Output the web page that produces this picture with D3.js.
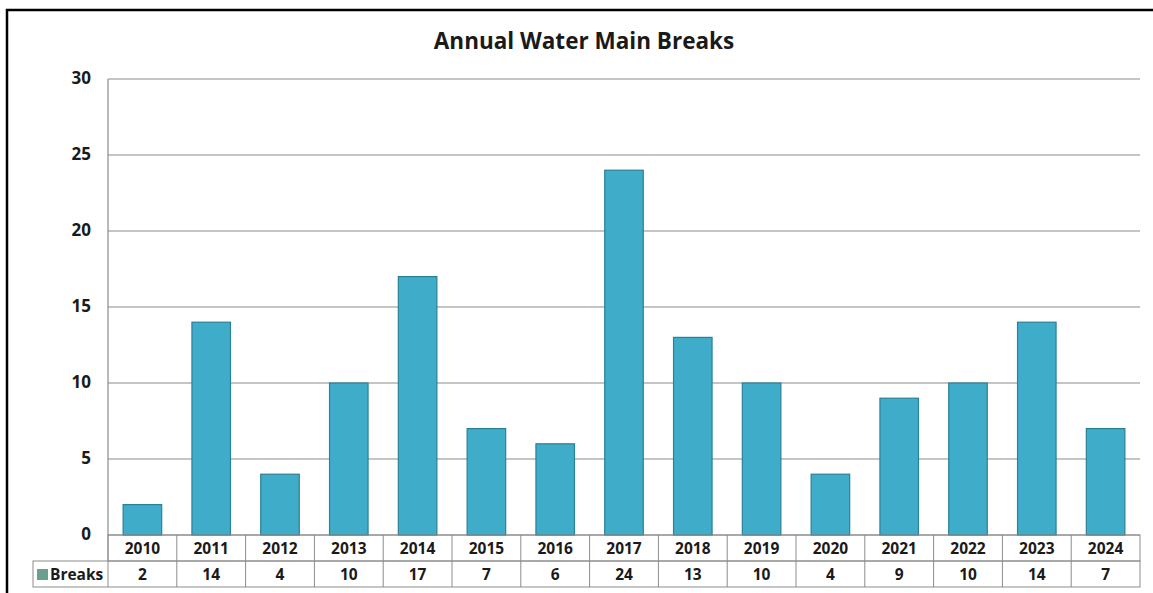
<!DOCTYPE html>
<html><head><meta charset="utf-8">
<script src="https://cdn.jsdelivr.net/npm/d3@7"></script>
<style>body{margin:0;background:#fff;}svg{display:block;font-family:"Open Sans",Lato,sans-serif;}</style>
</head><body>
<svg id="c" width="1153" height="593"></svg>
<script>
const years = ["2010","2011","2012","2013","2014","2015","2016","2017","2018","2019","2020","2021","2022","2023","2024"];
const breaks = [2,14,4,10,17,7,6,24,13,10,4,9,10,14,7];
const yTicks = [0,5,10,15,20,25,30];
const seriesName = "Breaks";
const title = "Annual Water Main Breaks";

(function(){
const svg = d3.select("#c");
const pL = 108, pR = 1140, pT = 79, pB = 535, rowH = 26;
const x = d3.scaleBand().domain(years).range([pL, pR]).paddingInner(0.44).paddingOuter(0.22);
const xc = d3.scaleBand().domain(years).range([pL, pR]);
const y = d3.scaleLinear().domain([0,30]).range([pB, pT]);

// frame
svg.append("path").attr("d",`M7,593 L7,10 L1153,10`).attr("fill","none").attr("stroke","#000").attr("stroke-width",2.5);

// title
svg.append("text").attr("x",584).attr("y",49).attr("text-anchor","middle").attr("font-size",22.5).attr("font-weight","bold").attr("fill","#1a1a1a").text(title);

// gridlines
svg.append("g").selectAll("line").data(yTicks).join("line")
  .attr("x1",pL).attr("x2",pR).attr("y1",d=>y(d)).attr("y2",d=>y(d))
  .attr("stroke","#8c8c8c").attr("stroke-width",1.2);
svg.append("line").attr("x1",pL).attr("x2",pL).attr("y1",pT).attr("y2",pB).attr("stroke","#8c8c8c").attr("stroke-width",1.2);

// y axis labels
svg.append("g").selectAll("text").data(yTicks).join("text")
  .attr("x",91).attr("y",d=>y(d)).attr("dy","0.3em").attr("text-anchor","end")
  .attr("font-size",17).attr("font-weight","bold").attr("fill","#1a1a1a").text(d=>d);

// bars
svg.append("g").selectAll("rect").data(years).join("rect")
  .attr("x",d=>x(d)).attr("width",x.bandwidth())
  .attr("y",(d,i)=>y(breaks[i])).attr("height",(d,i)=>y(0)-y(breaks[i]))
  .attr("fill","#3fadc9").attr("stroke","#2a8196").attr("stroke-width",1.2);

// data table
const tg = svg.append("g");
const legendLeft = 33;
tg.append("rect").attr("x",pL).attr("y",pB).attr("width",pR-pL).attr("height",rowH)
  .attr("fill","none").attr("stroke","#8c8c8c");
tg.append("rect").attr("x",legendLeft).attr("y",pB+rowH).attr("width",pR-legendLeft).attr("height",rowH)
  .attr("fill","none").attr("stroke","#8c8c8c");
tg.selectAll("line.v").data(years).join("line").attr("class","v")
  .attr("x1",d=>xc(d)).attr("x2",d=>xc(d)).attr("y1",pB).attr("y2",pB+2*rowH).attr("stroke","#8c8c8c");
tg.selectAll("text.yr").data(years).join("text").attr("class","yr")
  .attr("x",d=>xc(d)+xc.bandwidth()/2).attr("y",pB+rowH/2).attr("dy","0.36em").attr("text-anchor","middle")
  .attr("font-size",15.5).attr("font-weight","bold").attr("fill","#1a1a1a").text(d=>d);
tg.selectAll("text.val").data(years).join("text").attr("class","val")
  .attr("x",d=>xc(d)+xc.bandwidth()/2).attr("y",pB+rowH*1.5).attr("dy","0.36em").attr("text-anchor","middle")
  .attr("font-size",15.5).attr("font-weight","bold").attr("fill","#1a1a1a").text((d,i)=>breaks[i]);
tg.append("rect").attr("x",37).attr("y",pB+rowH*1.5-5).attr("width",11).attr("height",11).attr("fill","#6b9e90");
tg.append("text").attr("x",50).attr("y",pB+rowH*1.5).attr("dy","0.36em").attr("font-size",15.5).attr("font-weight","bold").attr("fill","#1a1a1a").text(seriesName);
})();
</script>
</body></html>
